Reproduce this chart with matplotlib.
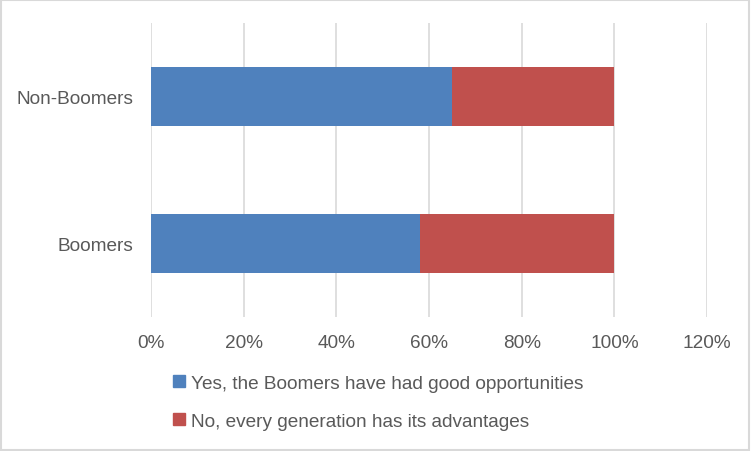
import matplotlib.pyplot as plt
import matplotlib.patches as mpatches
from matplotlib.ticker import PercentFormatter

# data
groups = ['Boomers', 'Non-Boomers']
yes_share = [58, 65]
no_share = [42, 35]
series_labels = ['Yes, the Boomers have had good opportunities',
                 'No, every generation has its advantages']
colors = ['#4F81BD', '#C0504D']
text_color = '#595959'

plt.rcParams['font.family'] = ['Liberation Sans', 'DejaVu Sans']

fig = plt.figure(figsize=(7.51, 4.52), dpi=100)
ax = fig.add_axes([151/751, 134/452, 556/751, 294/452])

ax.barh(groups, yes_share, height=0.4, color=colors[0], zorder=3)
ax.barh(groups, no_share, left=yes_share, height=0.4, color=colors[1], zorder=3)

ax.set_xlim(0, 120)
ax.set_ylim(-0.5, 1.5)
ax.set_xticks(range(0, 121, 20))
ax.xaxis.set_major_formatter(PercentFormatter(decimals=0))
ax.grid(axis='x', color='#D9D9D9', linewidth=1.2, zorder=0)
for s in ax.spines.values():
    s.set_visible(False)
ax.tick_params(length=0, labelsize=13.7, labelcolor=text_color)
ax.tick_params(axis='x', pad=12)
ax.tick_params(axis='y', pad=13)

handles = [mpatches.Patch(color=c, label=l) for c, l in zip(colors, series_labels)]
fig.legend(handles=handles, loc='upper left', bbox_to_anchor=(173/751, 1 - 376/452),
           frameon=False, fontsize=13.7, labelcolor=text_color,
           handlelength=0.62, handleheight=0.62, handletextpad=0.3,
           labelspacing=1.1, borderpad=0, borderaxespad=0)

# outer border of the chart area
fig.patches.append(mpatches.Rectangle((0.001, 0.002), 0.996, 0.995, transform=fig.transFigure,
                                      fill=False, edgecolor='#D9D9D9', linewidth=1.5))

fig.savefig('out.png', dpi=100)
